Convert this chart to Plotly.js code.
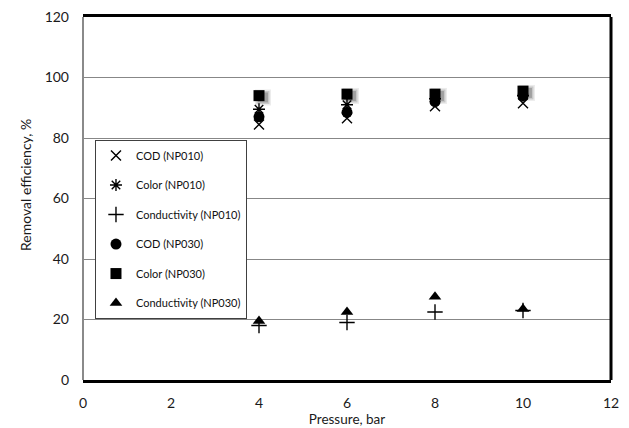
<!DOCTYPE html>
<html>
<head>
<meta charset="utf-8">
<script src="https://cdn.plot.ly/plotly-3.0.1.min.js"></script>
<style>html,body{margin:0;padding:0;background:#fff}</style>
</head>
<body>
<div id="chart" style="width:629px;height:428px"></div>
<script>
const pressure = [4, 6, 8, 10];
const codNP010 = [84.5, 86.5, 90.5, 91.5];
const colorNP010 = [89.5, 91, 93, 94];
const condNP010 = [18, 19, 22.5, 23];
const codNP030 = [87, 88.5, 92, 94];
const colorNP030 = [94, 94.5, 94.5, 95.5];
const condNP030 = [19.5, 22.5, 27.5, 23.5];
const seriesNames = ['COD (NP010)', 'Color (NP010)', 'Conductivity (NP010)', 'COD (NP030)', 'Color (NP030)', 'Conductivity (NP030)'];
const xTicks = [0, 2, 4, 6, 8, 10, 12];
const yTicks = [0, 20, 40, 60, 80, 100, 120];

const FONT = 'Lato, "Liberation Sans", sans-serif';
function mk(y, name, symbol, size, lw) {
  return {
    x: pressure, y: y, name: name, type: 'scatter', mode: 'markers',
    legendgroup: name,
    marker: {symbol: symbol, size: size, color: '#000', line: {color: '#000', width: lw}}
  };
}
const traces = [
  mk(codNP010, seriesNames[0], 'x-thin-open', 10, 1.4),
  mk(colorNP010, seriesNames[1], 'asterisk-open', 10, 1.4),
  mk(condNP010, seriesNames[2], 'cross-thin-open', 11, 1.4),
  mk(codNP030, seriesNames[3], 'circle', 11, 0),
  mk(colorNP030, seriesNames[4], 'square', 11, 0),
  mk(condNP030, seriesNames[5], 'triangle-up', 11, 0),
  // soft shadow of the squares, drawn on an overlaid, slightly shifted axis pair
  {x: pressure, y: colorNP030, xaxis: 'x2', yaxis: 'y2', type: 'scatter', mode: 'markers',
   showlegend: false, hoverinfo: 'skip',
   marker: {symbol: 'square', size: 16, color: 'rgba(0,0,0,0.08)', line: {width: 0}}},
  {x: pressure, y: colorNP030, xaxis: 'x2', yaxis: 'y2', type: 'scatter', mode: 'markers',
   showlegend: false, hoverinfo: 'skip',
   marker: {symbol: 'square', size: 13, color: 'rgba(0,0,0,0.15)', line: {width: 0}}},
  {x: pressure, y: colorNP030, xaxis: 'x2', yaxis: 'y2', type: 'scatter', mode: 'markers',
   showlegend: false, hoverinfo: 'skip',
   marker: {symbol: 'square', size: 10, color: 'rgba(0,0,0,0.2)', line: {width: 0}}}
];

const layout = {
  width: 629, height: 428,
  margin: {l: 83, r: 18, t: 17, b: 48},
  paper_bgcolor: '#fff', plot_bgcolor: '#fff',
  font: {family: FONT, size: 14, color: '#1a1a1a'},
  showlegend: true,
  xaxis: {
    range: [0, 12], tickvals: xTicks, ticktext: xTicks.map(String),
    showgrid: false, zeroline: false, ticks: '',
    showline: true, mirror: true, linecolor: '#000', linewidth: 3,
    ticklabelstandoff: 8,
    title: {text: 'Pressure, bar', font: {size: 13.5, color: '#1a1a1a'}, standoff: 2}
  },
  yaxis: {
    range: [0, 120], tickvals: yTicks, ticktext: yTicks.map(String),
    showgrid: true, gridcolor: '#878787', gridwidth: 1, zeroline: false, ticks: '',
    showline: false, ticklabelstandoff: 13
  },
  xaxis2: {overlaying: 'x', range: [-0.09, 11.91], visible: false, fixedrange: true},
  yaxis2: {overlaying: 'y', range: [0.6, 120.6], visible: false, fixedrange: true},
  shapes: [
    {type: 'line', xref: 'paper', yref: 'paper', x0: 0, x1: 0, y0: 0, y1: 1,
     line: {color: '#8a8a8a', width: 2}},
    {type: 'line', xref: 'paper', yref: 'paper', x0: 1, x1: 1, y0: 0, y1: 1,
     line: {color: '#000', width: 3}}
  ],
  annotations: [
    {text: 'Removal efficiency, %', xref: 'paper', yref: 'paper', x: -0.11, y: 0.537,
     textangle: -90, showarrow: false, xanchor: 'center', yanchor: 'middle',
     font: {size: 14, color: '#1a1a1a'}}
  ],
  legend: {
    x: 0.0227, y: 0.661, xanchor: 'left', yanchor: 'top',
    bgcolor: '#fff', bordercolor: '#404040', borderwidth: 1,
    font: {size: 11, color: '#111'}, tracegroupgap: 10.5,
    itemwidth: 30
  }
};

Plotly.newPlot('chart', traces, layout, {displayModeBar: false, staticPlot: true});
</script>
</body>
</html>
